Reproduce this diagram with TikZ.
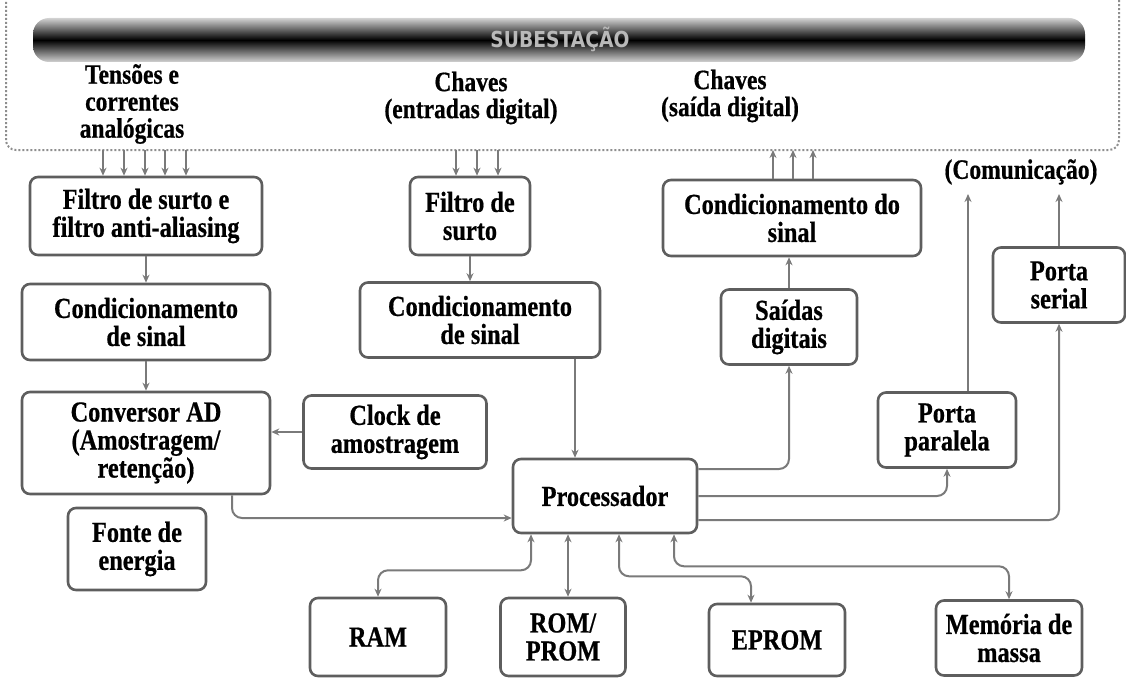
\documentclass[tikz,border=0pt]{standalone}
\usepackage{fontspec}
\setmainfont{Liberation Serif}
\newfontfamily\boxfont[FakeStretch=0.84,FakeBold=0.6]{Liberation Serif}
\newfontfamily\barfont[FakeStretch=0.85]{DejaVu Sans}
\usetikzlibrary{arrows.meta,calc}
\definecolor{linegray}{HTML}{7A7A7A}
\definecolor{boxgray}{HTML}{5E5E5E}
\begin{document}
\begin{tikzpicture}[x=1pt,y=-1pt,
  box/.style={draw=boxgray, line width=2.6pt, rounded corners=8pt, fill=white, align=center,
    font=\boxfont\bfseries\fontsize{29}{28}\selectfont, inner sep=2pt},
  lbl/.style={align=center, font=\boxfont\bfseries\fontsize{28}{27}\selectfont},
  arr/.style={draw=linegray, line width=2pt, -{Stealth[length=8pt,width=7pt]}},
  bi/.style={draw=linegray, line width=2pt, {Stealth[length=8pt,width=7pt]}-{Stealth[length=8pt,width=7pt]}},
  rc/.style={rounded corners=10pt}]
\useasboundingbox (0,0) rectangle (1126,677);
% frame and bar
\draw[linegray!85, line width=2pt, dash pattern=on 2pt off 2pt, rounded corners=10pt]
  (6,-2) -- (6,150) -- (1119,150) -- (1119,-2);
\shade[rounded corners=16pt, top color=gray!35, bottom color=gray!35, middle color=black]
  (33,18) rectangle (1085,62);
\node[font=\barfont\bfseries\fontsize{22}{22}\selectfont, text=gray!55] (sub) at (560,39) {SUBESTAÇÃO};
% labels
\node[lbl] (lt) at (132,104) {Tensões e\\correntes\\analógicas};
\node[lbl] (le) at (471,98) {Chaves\\(entradas digital)};
\node[lbl] (ls) at (730,96) {Chaves\\(saída digital)};
\node[lbl] (lc) at (1021,172) {(Comunicação)};
% boxes
\node[box, minimum width=232pt, minimum height=78pt] (f1) at (146,216) {Filtro de surto e\\filtro anti-aliasing};
\node[box, minimum width=248pt, minimum height=76pt] (c1) at (146,322) {Condicionamento\\de sinal};
\node[box, minimum width=248pt, minimum height=102pt] (ad) at (146,443) {Conversor AD\\(Amostragem/\\retenção)};
\node[box, minimum width=183pt, minimum height=73pt] (clk) at (395,432) {Clock de\\amostragem};
\node[box, minimum width=138pt, minimum height=82pt] (fonte) at (137,549) {Fonte de\\energia};
\node[box, minimum width=120pt, minimum height=78pt] (f2) at (470,216) {Filtro de\\surto};
\node[box, minimum width=240pt, minimum height=75pt] (c2) at (480,320) {Condicionamento\\de sinal};
\node[box, minimum width=184pt, minimum height=74pt] (proc) at (605,496) {Processador};
\node[box, minimum width=258pt, minimum height=76pt] (c3) at (792,218) {Condicionamento do\\sinal};
\node[box, minimum width=136pt, minimum height=75pt] (sd) at (789,327) {Saídas\\digitais};
\node[box, minimum width=138pt, minimum height=75pt] (pp) at (947,430) {Porta\\paralela};
\node[box, minimum width=132pt, minimum height=75pt] (ps) at (1059,285) {Porta\\serial};
\node[box, minimum width=136pt, minimum height=78pt] (ram) at (378,637) {RAM};
\node[box, minimum width=125pt, minimum height=78pt] (rom) at (563,637) {ROM/\\PROM};
\node[box, minimum width=136pt, minimum height=72pt] (eprom) at (777,640) {EPROM};
\node[box, minimum width=146pt, minimum height=75pt] (mem) at (1009,638) {Memória de\\massa};
% frame coordinates
\coordinate (fa1) at (103,150); \coordinate (fa2) at (124,150); \coordinate (fa3) at (145,150);
\coordinate (fa4) at (165,150); \coordinate (fa5) at (186,150);
\coordinate (fb1) at (456,150); \coordinate (fb2) at (477,150); \coordinate (fb3) at (498,150);
\coordinate (fc1) at (773,150); \coordinate (fc2) at (793,150); \coordinate (fc3) at (813,150);
\coordinate (com1) at (968,194); \coordinate (com2) at (1059,194);
% connectors from frame
\foreach \c in {fa1,fa2,fa3,fa4,fa5} \draw[arr] (\c) -- (\c |- f1.north);
\foreach \c in {fb1,fb2,fb3} \draw[arr] (\c) -- (\c |- f2.north);
\foreach \c in {fc1,fc2,fc3} \draw[arr] (\c |- c3.north) -- (\c);
% chains
\draw[arr] (f1.south) -- (c1.north);
\draw[arr] (c1.south) -- (ad.north);
\draw[arr] (f2.south) -- (f2.south |- c2.north);
\draw[arr] (clk.west) -- (clk.west -| ad.east);
\coordinate (pin) at ($(proc.north)+(-30,0)$);
\draw[arr] (pin |- c2.south) -- (pin);
\draw[arr, rc] ($(ad.south)+(86,0)$) |- ($(proc.west)+(0,22)$);
\draw[arr, rc] ($(proc.east)+(0,-27)$) -| (sd.south);
\draw[arr] (sd.north) -- (sd.north |- c3.south);
\draw[arr, rc] (proc.east) -| (pp.south);
\coordinate (ppo) at ($(pp.north)+(21,0)$);
\draw[arr] (ppo) -- (ppo |- com1);
\draw[arr, rc] ($(proc.east)+(0,24)$) -| (ps.south);
\draw[arr] (ps.north) -- (ps.north |- com2);
% bus
\coordinate (pr1) at ($(proc.south)+(-74,0)$);
\coordinate (pr2) at ($(proc.south)+(-37,0)$);
\coordinate (pr3) at ($(proc.south)+(14,0)$);
\coordinate (pr4) at ($(proc.south)+(69,0)$);
\coordinate (ep1) at ($(eprom.north)+(-26,0)$);
\draw[bi, rc] (pr1) -- ($(pr1)+(0,36)$) -| (ram.north);
\draw[bi] (pr2) -- (pr2 |- rom.north);
\draw[bi, rc] (pr3) -- ($(pr3)+(0,42)$) -| (ep1);
\draw[bi, rc] (pr4) -- ($(pr4)+(0,32)$) -| (mem.north);
\end{tikzpicture}
\end{document}
